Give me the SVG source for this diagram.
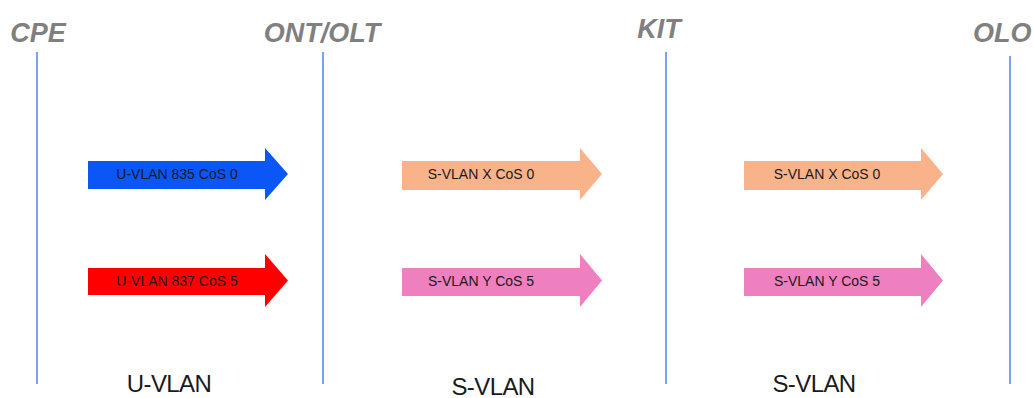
<svg xmlns="http://www.w3.org/2000/svg" width="1034" height="398" viewBox="0 0 1034 398">
<style>
.bg{fill:#ffffff}
.vline{stroke:#7aa3f5;stroke-width:2;fill:none}
.hdr{font-family:"Liberation Sans",Arial,sans-serif;font-weight:bold;font-style:italic;font-size:27px;fill:#808080}
.lbl{font-family:"Liberation Sans",Arial,sans-serif;font-size:14px;fill:#1a1a1a;letter-spacing:0px}
.foot{font-family:"Liberation Sans",Arial,sans-serif;font-size:24px;fill:#1a1a1a;letter-spacing:-0.6px}
.blue{fill:#0a56f7}
.red{fill:#ff0000}
.salmon{fill:#f9b38b}
.pink{fill:#ef80bf}
</style>
<rect class="bg" x="0" y="0" width="1034" height="398"/>
<g id="connectors">
<line class="vline" x1="37" y1="52" x2="37" y2="384"/>
<line class="vline" x1="323" y1="52" x2="323" y2="384"/>
<line class="vline" x1="666" y1="52" x2="666" y2="384"/>
<line class="vline" x1="1010" y1="56" x2="1010" y2="384"/>
</g>
<g id="cpe"><text class="hdr" x="38" y="42" text-anchor="middle">CPE</text></g>
<g id="ont-olt"><text class="hdr" x="322" y="42" text-anchor="middle">ONT/OLT</text></g>
<g id="kit"><text class="hdr" x="659" y="38" text-anchor="middle">KIT</text></g>
<g id="olo"><text class="hdr" x="973" y="42">OLO</text></g>
<g id="arrow-u835">
<path class="blue" d="M88,161 H265 V148 L288,174 L265,200 V189 H88 Z"/>
<text class="lbl" x="177" y="179" text-anchor="middle">U-VLAN 835 CoS 0</text>
</g>
<g id="arrow-u837">
<path class="red" d="M88,268 H265 V254 L288,280.5 L265,307 V295 H88 Z"/>
<text class="lbl" x="177" y="286" text-anchor="middle">U-VLAN 837 CoS 5</text>
</g>
<g id="arrow-sx-1">
<path class="salmon" d="M402,161 H580 V148 L602,174 L580,200 V190 H402 Z"/>
<text class="lbl" x="481" y="179" text-anchor="middle">S-VLAN X CoS 0</text>
</g>
<g id="arrow-sy-1">
<path class="pink" d="M402,268 H580 V254 L602,280.5 L580,307 V296 H402 Z"/>
<text class="lbl" x="481" y="286" text-anchor="middle">S-VLAN Y CoS 5</text>
</g>
<g id="arrow-sx-2">
<path class="salmon" d="M744,161 H921 V148 L943,174 L921,200 V190 H744 Z"/>
<text class="lbl" x="827" y="179" text-anchor="middle">S-VLAN X CoS 0</text>
</g>
<g id="arrow-sy-2">
<path class="pink" d="M744,268 H921 V254 L943,280.5 L921,307 V296 H744 Z"/>
<text class="lbl" x="827" y="286" text-anchor="middle">S-VLAN Y CoS 5</text>
</g>
<g id="foot-u"><text class="foot" x="169" y="392" text-anchor="middle">U-VLAN</text></g>
<g id="foot-s1"><text class="foot" x="493" y="395" text-anchor="middle">S-VLAN</text></g>
<g id="foot-s2"><text class="foot" x="814" y="392" text-anchor="middle">S-VLAN</text></g>
</svg>
